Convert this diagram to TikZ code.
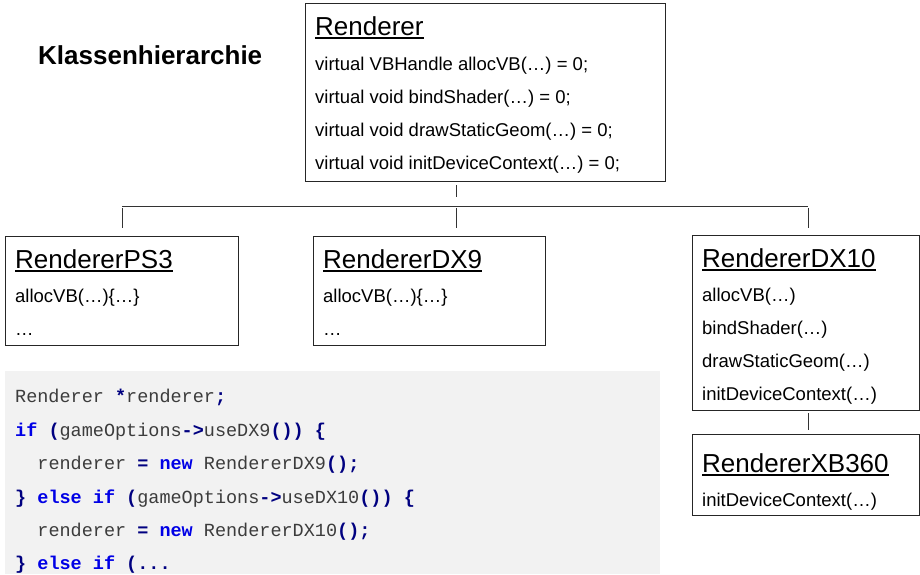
\documentclass[tikz,border=0pt]{standalone}
\usepackage{fontspec}
\setmainfont{Liberation Sans}
\setmonofont{Liberation Mono}
\definecolor{codebg}{RGB}{242,242,242}
\definecolor{codetext}{RGB}{60,60,60}
\definecolor{kwblue}{RGB}{0,0,230}
\definecolor{opnavy}{RGB}{0,0,128}
\newcommand\myul[1]{\setbox0\hbox{#1}\rlap{\rule[-3.5pt]{\wd0}{1.6pt}}\box0}
\newcommand\kwd[1]{\textcolor{kwblue}{\bfseries #1}}
\newcommand\opr[1]{\textcolor{opnavy}{\bfseries #1}}
\begin{document}
\begin{tikzpicture}[x=1pt,y=-1pt,
  box/.style={draw=black!85, line width=1pt, inner sep=0pt, anchor=north west},
  ttl/.style={anchor=base west, inner sep=0pt, font=\fontsize{26}{26}\selectfont},
  member/.style={anchor=base west, inner sep=0pt, font=\fontsize{18.5}{18.5}\selectfont},
  code/.style={anchor=base west, inner sep=0pt, font=\fontsize{18.5}{18.5}\ttfamily, text=codetext},
  link/.style={draw=black!80, line width=0.9pt}]
\useasboundingbox (0,0) rectangle (920,574);
% code background
\node[anchor=north west, fill=codebg, inner sep=0pt, minimum width=655pt, minimum height=203pt] (codebox) at (5,371) {};
% heading
\node[anchor=base west, inner sep=0pt, font=\fontsize{26}{26}\selectfont\bfseries] (head) at (38,64) {Klassenhierarchie};
% boxes
\node[box, minimum width=360pt, minimum height=178pt] (R) at (305,3) {};
\node[box, minimum width=233pt, minimum height=109pt] (PS3) at (5,236) {};
\node[box, minimum width=232pt, minimum height=109pt] (DX9) at (313,236) {};
\node[box, minimum width=227pt, minimum height=175pt] (DX10) at (692,235) {};
\node[box, minimum width=227pt, minimum height=81pt] (XB) at (692,434) {};
% Renderer texts
\node[ttl] (Rt) at (315,35) {\myul{Renderer}};
\node[member] (R1) at (315,70) {virtual VBHandle allocVB(…) = 0;};
\node[member] (R2) at (315,103) {virtual void bindShader(…) = 0;};
\node[member] (R3) at (315,136) {virtual void drawStaticGeom(…) = 0;};
\node[member] (R4) at (315,169) {virtual void initDeviceContext(…) = 0;};
% PS3
\node[ttl] (Pt) at (15,268) {\myul{RendererPS3}};
\node[member] (P1) at (15,302) {allocVB(…)\{…\}};
\node[member] (P2) at (15,335) {…};
% DX9
\node[ttl] (Dt) at (323,268) {\myul{RendererDX9}};
\node[member] (D1) at (323,302) {allocVB(…)\{…\}};
\node[member] (D2) at (323,335) {…};
% DX10
\node[ttl] (Et) at (702,267) {\myul{RendererDX10}};
\node[member] (E1) at (702,301) {allocVB(…)};
\node[member] (E2) at (702,334) {bindShader(…)};
\node[member] (E3) at (702,367) {drawStaticGeom(…)};
\node[member] (E4) at (702,400) {initDeviceContext(…)};
% XB360
\node[ttl] (Xt) at (702,472) {\myul{RendererXB360}};
\node[member] (X1) at (702,506) {initDeviceContext(…)};
% connectors
\coordinate (j) at (456,206);
\coordinate (hl) at (122,206);
\coordinate (hr) at (808,206);
\draw[link, shorten <=3pt, shorten >=9pt] (R.south -| j) -- (j);
\draw[link] (hl) -- (hr);
\draw[link, shorten <=2pt, shorten >=8pt] (hl) -- (PS3.north -| hl);
\draw[link, shorten <=2pt, shorten >=8pt] (j) -- (DX9.north -| j);
\draw[link, shorten <=2pt, shorten >=7pt] (hr) -- (DX10.north -| hr);
\draw[link, shorten <=2pt, shorten >=4pt] (DX10.south -| hr) -- (XB.north -| hr);
% code
\node[code] (c1) at (15,402) {Renderer \opr{*}renderer\opr{;}};
\node[code] (c2) at (15,436) {\kwd{if} \opr{(}gameOptions\opr{->}useDX9\opr{())} \opr{\{}};
\node[code] (c3) at (15,469) {\ \ renderer \opr{=} \kwd{new} RendererDX9\opr{();}};
\node[code] (c4) at (15,503) {\opr{\}} \kwd{else} \kwd{if} \opr{(}gameOptions\opr{->}useDX10\opr{())} \opr{\{}};
\node[code] (c5) at (15,536) {\ \ renderer \opr{=} \kwd{new} RendererDX10\opr{();}};
\node[code] (c6) at (15,569) {\opr{\}} \kwd{else} \kwd{if} \opr{(...}};
\end{tikzpicture}
\end{document}
